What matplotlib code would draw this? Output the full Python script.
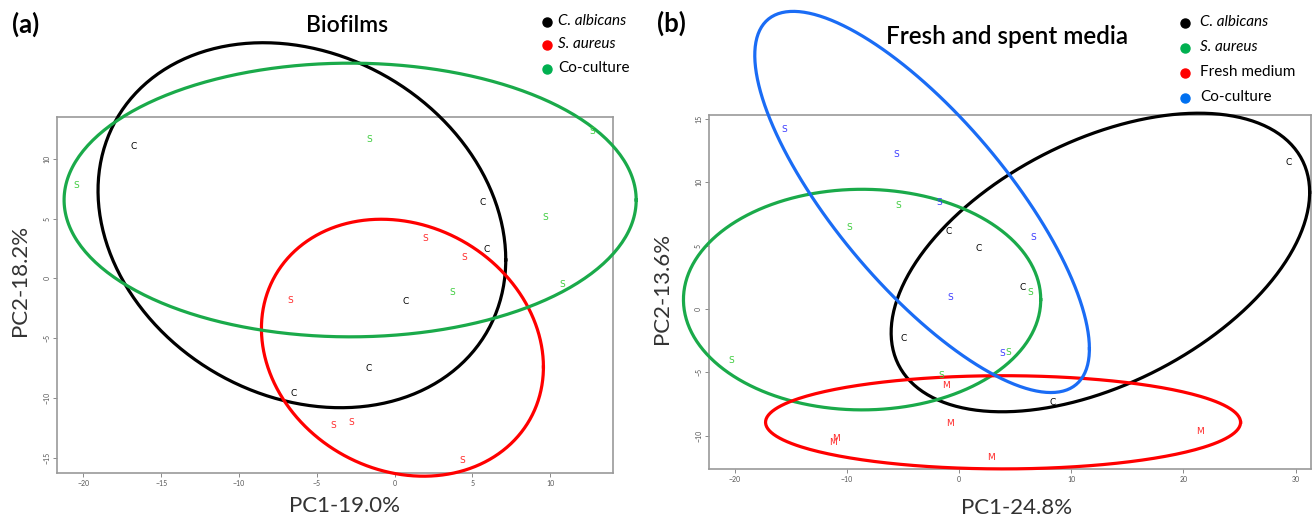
import matplotlib.pyplot as plt
from matplotlib.lines import Line2D
import numpy as np

plt.rcParams['font.family'] = ['Lato', 'DejaVu Sans']

# ---- panel (a): biofilms, point labels ----
a_ca_x = [-16.75, 5.65, 5.92, 0.69, -1.65, -6.5]
a_ca_y = [11.06, 6.33, 2.43, -1.92, -7.54, -9.63]
a_sa_x = [1.97, 4.48, -6.72, -3.97, -2.8, 4.37]
a_sa_y = [3.37, 1.73, -1.86, -12.27, -12.08, -15.22]
a_co_x = [-1.65, 12.67, -20.43, 9.65, 3.73, 10.75]
a_co_y = [11.61, 12.28, 7.77, 5.13, -1.14, -0.52]

# ellipses: centre x, centre y, half width, half height, cos(phase)
a_ell_ca = (-5.96, 4.45, 13.1, 15.27, -0.19)
a_ell_sa = (0.5, -5.8, 9.06, 10.75, -0.15)
a_ell_co = (-2.86, 6.56, 18.38, 11.45, 0.0)

# ---- panel (b): fresh and spent media ----
b_ca_x = [29.4, -0.94, 1.77, 5.69, -4.94, 8.33]
b_ca_y = [11.53, 6.1, 4.79, 1.71, -2.32, -7.37]
b_sa_x = [-5.47, -9.76, 6.33, 4.41, -20.3, -1.55]
b_sa_y = [8.18, 6.42, 1.32, -3.42, -4.1, -5.26]
b_fm_x = [-1.13, -0.83, -10.97, -11.2, 2.86, 21.52]
b_fm_y = [-6.03, -9.08, -10.24, -10.58, -11.71, -9.71]
b_co_x = [-15.6, -5.58, -1.81, 6.63, -0.79, 3.84]
b_co_y = [14.2, 12.21, 8.42, 5.68, 0.87, -3.5]

b_ell_ca = (12.6, 3.67, 18.66, 11.79, 0.47)
b_ell_sa = (-8.65, 0.74, 15.93, 8.71, 0.0)
b_ell_fm = (3.92, -8.95, 21.18, 3.68, 0.0)
b_ell_co = (-3.3, 8.45, 14.92, 15.05, -0.77)

black = 'black'
red_line, red_txt = '#ff0000', '#ff2a2a'
green_line, green_txt = '#1aaa4a', '#3ccc3c'
blue_line, blue_txt = '#1a6cf5', '#3a3aff'
legend_red, legend_green, legend_blue = '#ff0000', '#00b050', '#0070f0'


def draw_ellipse(ax, ell, color):
    cx, cy, w, h, cphi = ell
    phi = np.arccos(cphi)
    t = np.linspace(0, 2 * np.pi, 300)
    ax.plot(cx + w * np.cos(t), cy + h * np.cos(t - phi), color=color,
            lw=2.3, clip_on=False, zorder=3)


def draw_letters(ax, xs, ys, letter, color):
    for x, y in zip(xs, ys):
        ax.text(x, y, letter, color=color, fontsize=6.5, ha='center',
                va='center', family='DejaVu Sans', zorder=4)


def style_axes(ax, xlim, ylim, xticks, yticks):
    ax.set_xlim(*xlim)
    ax.set_ylim(*ylim)
    ax.set_xticks(xticks)
    ax.set_yticks(yticks)
    for s in ax.spines.values():
        s.set_color('#9a9a9a')
        s.set_linewidth(1.2)
    ax.tick_params(length=3, width=0.6, color='#777777', labelsize=5,
                   labelcolor='#555555', pad=2)
    plt.setp(ax.get_yticklabels(), rotation=90, va='center')


fig = plt.figure(figsize=(13.13, 5.19), dpi=100)

# panel (a)
ax1 = fig.add_axes([0.0436, 0.088, 0.4235, 0.686])
style_axes(ax1, (-21.68, 14.05), (-16.31, 13.48),
           [-20, -15, -10, -5, 0, 5, 10], [-15, -10, -5, 0, 5, 10])
draw_ellipse(ax1, a_ell_ca, black)
draw_ellipse(ax1, a_ell_sa, red_line)
draw_ellipse(ax1, a_ell_co, green_line)
draw_letters(ax1, a_ca_x, a_ca_y, 'C', black)
draw_letters(ax1, a_sa_x, a_sa_y, 'S', red_txt)
draw_letters(ax1, a_co_x, a_co_y, 'S', green_txt)

# panel (b)
ax2 = fig.add_axes([0.540, 0.0958, 0.4583, 0.6827])
style_axes(ax2, (-22.3, 31.36), (-12.66, 15.32),
           [-20, -10, 0, 10, 20, 30], [-10, -5, 0, 5, 10, 15])
draw_ellipse(ax2, b_ell_ca, black)
draw_ellipse(ax2, b_ell_sa, green_line)
draw_ellipse(ax2, b_ell_fm, red_line)
draw_ellipse(ax2, b_ell_co, blue_line)
draw_letters(ax2, b_ca_x, b_ca_y, 'C', black)
draw_letters(ax2, b_sa_x, b_sa_y, 'S', green_txt)
draw_letters(ax2, b_fm_x, b_fm_y, 'M', red_txt)
draw_letters(ax2, b_co_x, b_co_y, 'S', blue_txt)

W, H = 1313.0, 519.0


def ftext(px, py, s, **kw):
    fig.text(px / W, 1 - py / H, s, **kw)


def fdot(px, py, color):
    fig.add_artist(Line2D([px / W], [1 - py / H], marker='o', markersize=6.5,
                          color=color, transform=fig.transFigure))


# axis labels
lab = dict(fontsize=16, color='#333333', ha='center', va='center')
ftext(344, 506, 'PC1-19.0%', **lab)
ftext(20, 280, 'PC2-18.2%', rotation=90, **lab)
ftext(1017, 508, 'PC1-24.8%', **lab)
ftext(662, 288, 'PC2-13.6%', rotation=90, **lab)

# panel letters and titles
ftext(26, 24, '(a)', fontsize=18.5, fontweight='bold', ha='center', va='center')
ftext(671, 23, '(b)', fontsize=18.5, fontweight='bold', ha='center', va='center')
ftext(347, 25, 'Biofilms', fontsize=16.5, fontweight='semibold', ha='center', va='center')
ftext(1007, 36, 'Fresh and spent media', fontsize=17.5, fontweight='semibold',
      ha='center', va='center')

# legends
a_leg = [('C. albicans', black, 'italic'), ('S. aureus', legend_red, 'italic'),
         ('Co-culture', legend_green, 'normal')]
for i, (name, col, sty) in enumerate(a_leg):
    y = 22 + i * 23.3
    fdot(546.5, y, col)
    ftext(558, y - 1, name, fontsize=11, style=sty, ha='left', va='center')

b_leg = [('C. albicans', black, 'italic'), ('S. aureus', legend_green, 'italic'),
         ('Fresh medium', legend_red, 'normal'), ('Co-culture', legend_blue, 'normal')]
for i, (name, col, sty) in enumerate(b_leg):
    y = 23 + i * 25
    fdot(1185, y, col)
    ftext(1200, y - 1, name, fontsize=11, style=sty, ha='left', va='center')

fig.savefig('out.png', dpi=100)
